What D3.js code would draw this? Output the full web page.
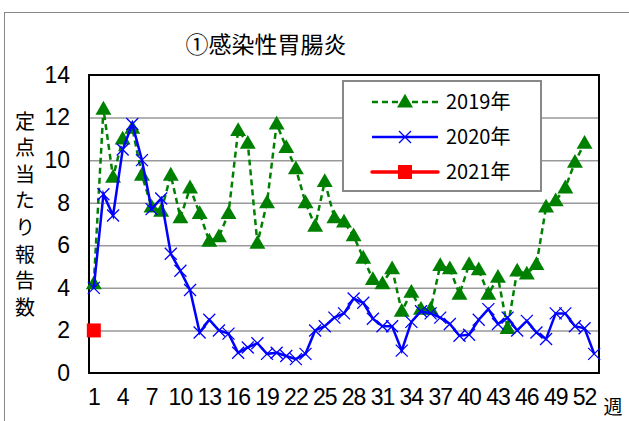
<!DOCTYPE html>
<html>
<head>
<meta charset="utf-8">
<script src="https://cdn.jsdelivr.net/npm/d3@7"></script>
<style>
  body { margin: 0; background: #fff; }
  text { font-family: "Liberation Sans", Arial, "Noto Sans CJK JP", sans-serif; }
  .jp { font-family: "Noto Sans CJK JP", sans-serif; }
  .num { font-family: "Liberation Sans Narrow", "Liberation Sans", Arial, sans-serif; }
</style>
</head>
<body>
<svg width="629" height="421"></svg>
<script>
// weeks 1..53, labels every 3 weeks
var weeks = d3.range(1, 54);
var weekLabels = [1,4,7,10,13,16,19,22,25,28,31,34,37,40,43,46,49,52];
var yTicks = [0,2,4,6,8,10,12,14];

var y2019 = [4.2,12.4,9.2,11.0,11.5,9.3,7.8,7.6,9.3,7.3,8.7,7.5,6.2,6.4,7.5,11.4,10.8,6.1,8.0,11.7,
             10.6,9.6,8.0,6.9,9.0,7.3,7.1,6.45,5.4,4.4,4.2,4.9,2.9,3.8,3.0,3.0,5.05,4.9,3.7,5.1,
             4.85,3.7,4.5,2.1,4.8,4.65,5.1,7.8,8.1,8.7,9.9,10.8];
var y2020 = [4.0,8.4,7.4,10.5,11.7,10.0,7.7,8.2,5.6,4.8,3.9,1.9,2.5,2.0,1.85,0.95,1.2,1.4,0.9,0.95,
             0.8,0.65,0.9,2.0,2.2,2.6,2.8,3.5,3.3,2.55,2.2,2.2,1.05,2.4,2.9,2.8,2.6,2.3,1.75,1.8,
             2.5,3.0,2.3,2.6,2.0,2.45,1.9,1.6,2.8,2.8,2.2,2.1,0.9];
var y2021 = [2.0];

var seriesNames = ["2019年", "2020年", "2021年"];

var svg = d3.select("svg");

// outer frame
svg.append("rect").attr("x", 4.5).attr("y", 12.5).attr("width", 640).attr("height", 430)
  .attr("fill", "#fff").attr("stroke", "#888").attr("stroke-width", 1);

var pLeft = 89, pRight = 599, pTop = 75, pBottom = 373;

var x = d3.scaleBand().domain(weeks).range([pLeft, pRight]).padding(0);
var y = d3.scaleLinear().domain([0, 14]).range([pBottom, pTop]);
function cx(w) { return x(w) + x.bandwidth() / 2; }

// gridlines
svg.append("g")
  .attr("transform", "translate(" + pLeft + ",0)")
  .call(d3.axisLeft(y).tickValues(yTicks.slice(1, -1)).tickSize(-(pRight - pLeft)).tickFormat(""))
  .call(function (g) {
    g.select(".domain").remove();
    g.selectAll("line").attr("stroke", "#999").attr("stroke-width", 1.5);
  });

// y axis labels
svg.append("g")
  .attr("transform", "translate(" + pLeft + ",0)")
  .call(d3.axisLeft(y).tickValues(yTicks).tickSize(0).tickPadding(19))
  .call(function (g) {
    g.select(".domain").remove();
    g.attr("font-family", null);
    g.selectAll("text").attr("class", "num").attr("font-size", 23).attr("fill", "#000");
  });

// x axis labels
svg.append("g")
  .attr("transform", "translate(0," + pBottom + ")")
  .call(d3.axisBottom(x).tickValues(weekLabels).tickSize(0).tickPadding(16))
  .call(function (g) {
    g.select(".domain").remove();
    g.attr("font-family", null);
    g.selectAll("text").attr("class", "num").attr("font-size", 23).attr("fill", "#000")
      .attr("letter-spacing", -1);
  });

// plot border
svg.append("rect").attr("x", pLeft).attr("y", pTop).attr("width", pRight - pLeft).attr("height", pBottom - pTop)
  .attr("fill", "none").attr("stroke", "#000").attr("stroke-width", 2);

// title
svg.append("text").attr("class", "jp").attr("x", 266).attr("y", 53).attr("text-anchor", "middle")
  .attr("font-size", 23).text("①感染性胃腸炎");

// y axis title (vertical)
svg.append("text")
  .attr("class", "jp")
  .attr("x", 25)
  .attr("y", 111)
  .attr("font-size", 20)
  .attr("letter-spacing", 6.6)
  .style("writing-mode", "vertical-rl")
  .style("text-orientation", "upright")
  .text("定点当たり報告数");

svg.append("text").attr("class", "jp").attr("x", 613).attr("y", 414).attr("text-anchor", "middle")
  .attr("font-size", 19).text("週");

var line = d3.line().x(function (d) { return cx(d.w); }).y(function (d) { return y(d.v); });
function pts(arr) { return arr.map(function (v, i) { return { w: i + 1, v: v }; }); }

var tri = d3.symbol().type(d3.symbolTriangle).size(110);

// 2019
svg.append("path").datum(pts(y2019)).attr("d", line).attr("fill", "none")
  .attr("stroke", "#008000").attr("stroke-width", 2.5).attr("stroke-dasharray", "6,4");
svg.append("g").selectAll("path").data(pts(y2019)).enter().append("path")
  .attr("d", tri).attr("fill", "#008000")
  .attr("transform", function (d) { return "translate(" + cx(d.w) + "," + (y(d.v) + 1) + ")"; });

// 2020
function cross(g, px, py, s) {
  g.append("path").attr("d", "M" + (px - s) + "," + (py - s) + "L" + (px + s) + "," + (py + s) +
    "M" + (px - s) + "," + (py + s) + "L" + (px + s) + "," + (py - s))
    .attr("stroke", "#0000ff").attr("stroke-width", 1.3).attr("fill", "none");
}
svg.append("path").datum(pts(y2020)).attr("d", line).attr("fill", "none")
  .attr("stroke", "#0000ff").attr("stroke-width", 2.5);
var g20 = svg.append("g");
pts(y2020).forEach(function (d) { cross(g20, cx(d.w), y(d.v), 6); });

// 2021
svg.append("g").selectAll("rect").data(pts(y2021)).enter().append("rect")
  .attr("x", function (d) { return cx(d.w) - 7; })
  .attr("y", function (d) { return y(d.v) - 7; })
  .attr("width", 14).attr("height", 14).attr("fill", "#ff0000");

// legend
var lg = svg.append("g");
lg.append("rect").attr("x", 343).attr("y", 81).attr("width", 198).attr("height", 110)
  .attr("fill", "#fff").attr("stroke", "#888").attr("stroke-width", 2);
var rows = [102, 137, 172];
// 2019 row
lg.append("line").attr("x1", 372).attr("x2", 438).attr("y1", rows[0]).attr("y2", rows[0])
  .attr("stroke", "#008000").attr("stroke-width", 2.5).attr("stroke-dasharray", "6,4");
lg.append("path").attr("d", tri).attr("fill", "#008000")
  .attr("transform", "translate(405," + (rows[0] + 1) + ")");
// 2020 row
lg.append("line").attr("x1", 372).attr("x2", 438).attr("y1", rows[1]).attr("y2", rows[1])
  .attr("stroke", "#0000ff").attr("stroke-width", 2.5);
cross(lg, 405, rows[1], 6);
// 2021 row
lg.append("line").attr("x1", 372).attr("x2", 438).attr("y1", rows[2]).attr("y2", rows[2])
  .attr("stroke", "#ff0000").attr("stroke-width", 3.5).attr("stroke-linecap", "round");
lg.append("rect").attr("x", 398).attr("y", rows[2] - 7).attr("width", 14).attr("height", 14).attr("fill", "#ff0000");

lg.selectAll("text.lbl").data(seriesNames).enter().append("text")
  .attr("class", "jp")
  .attr("x", 446)
  .attr("y", function (d, i) { return rows[i] + 7; })
  .attr("font-size", 20)
  .text(function (d) { return d; });
</script>
</body>
</html>
